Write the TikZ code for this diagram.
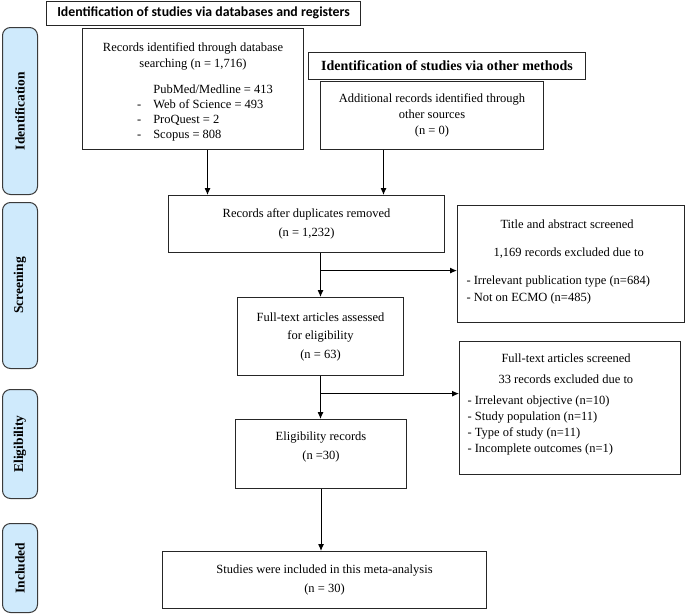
\documentclass[tikz,border=0pt]{standalone}
\usepackage{fontspec}
\setmainfont{Liberation Serif}
\newfontfamily\hdrfont{Carlito}
\usetikzlibrary{arrows.meta,calc}
\definecolor{tabfill}{HTML}{CFEAFC}
\definecolor{tabline}{HTML}{3A3A3A}
\tikzset{
  box/.style={draw=black!85, line width=1pt, anchor=north west, inner sep=0pt, font=\fontsize{12.5}{18.5}\selectfont},
  hdr/.style={draw=black!85, line width=1pt, anchor=north west, inner sep=0pt},
  txt/.style={font=\fontsize{12.5}{15.5}\selectfont},
  tab/.style={draw=tabline, fill=tabfill, line width=1pt, rounded corners=8pt, anchor=north west, inner sep=0pt},
  tablabel/.style={rotate=90, font=\fontsize{13.5}{16}\selectfont\bfseries},
  arr/.style={line width=1pt, -{Latex[length=7pt,width=6pt]}},
  ln/.style={line width=1pt}
}
\begin{document}
\begin{tikzpicture}[x=1pt,y=-1pt]
\useasboundingbox (0,0) rectangle (685,613);
% side tabs
\node[tab, minimum width=35, minimum height=167] (t1) at (2,27) {};
\node[tablabel] at (t1.center) {Identification};
\node[tab, minimum width=35, minimum height=166] (t2) at (2,202) {};
\node[tablabel] at (t2.center) {Screening};
\node[tab, minimum width=35, minimum height=109] (t3) at (2,389) {};
\node[tablabel] at (t3.center) {Eligibility};
\node[tab, minimum width=35, minimum height=89] (t4) at (2,523) {};
\node[tablabel] at (t4.center) {Included};
% headers
\node[hdr, minimum width=314, minimum height=24.5] (h1) at (46,0.5) {};
\node[font=\hdrfont\fontsize{13.8}{16}\selectfont\bfseries] at (h1.center) {Identification of studies via databases and registers};
\node[hdr, minimum width=277, minimum height=27] (h2) at (308,52) {};
\node[font=\fontsize{14}{16}\selectfont\bfseries] at (h2.center) {Identification of studies via other methods};
% boxes
\node[box, minimum width=221, minimum height=121] (b1) at (82,28) {};
\node[txt, align=center, anchor=north] at ($(b1.north)+(0,11)$) {Records identified through database\\[0.5pt] searching (n = 1,716)\\[12pt]
 \hspace*{24pt}\begin{tabular}{@{}l@{\hspace{12pt}}l@{}}
 & PubMed/Medline = 413\\[-0.5pt]
 - & Web of Science = 493\\[-0.5pt]
 - & ProQuest = 2\\[-0.5pt]
 - & Scopus = 808
 \end{tabular}};
\node[box, minimum width=223, minimum height=68, align=center, font=\fontsize{12.5}{16}\selectfont] (b2) at (320,81) {Additional records identified through\\ other sources\\ (n = 0)};
\node[box, minimum width=276, minimum height=57, align=center] (b3) at (168,195) {Records after duplicates removed\\ (n = 1,232)};
\node[box, minimum width=166, minimum height=78, align=center] (b4) at (237,297) {Full-text articles assessed\\ for eligibility\\ (n = 63)};
\node[box, minimum width=227, minimum height=117] (b5) at (457,205) {};
\node[txt, align=left, anchor=north west] at (463,216) {\hspace*{34pt}Title and abstract screened\\[12.5pt]
 \hspace*{27pt}1,169 records excluded due to\\[12.5pt]
 - Irrelevant publication type (n=684)\\[1.5pt]
 - Not on ECMO (n=485)};
\node[box, minimum width=221, minimum height=133] (b7) at (459,341) {};
\node[txt, align=left, anchor=north west] at (464,350.5) {\hspace*{34pt}Full-text articles screened\\[5.5pt]
 \hspace*{31pt}33 records excluded due to\\[5.5pt]
 - Irrelevant objective (n=10)\\[0.5pt]
 - Study population (n=11)\\[0.5pt]
 - Type of study (n=11)\\[0.5pt]
 - Incomplete outcomes (n=1)};
\node[box, minimum width=171, minimum height=69] (b6) at (235,419) {};
\node[font=\fontsize{12.5}{18.5}\selectfont, align=center] at ($(b6.center)+(0,-7)$) {Eligibility records\\ (n =30)};
\node[box, minimum width=324, minimum height=57, align=center] (b8) at (162,551) {Studies were included in this meta-analysis\\ (n = 30)};
% connectors
\draw[arr] ([xshift=14.5pt]b1.south) -- ([xshift=14.5pt]b1.south |- b3.north);
\draw[arr] ([xshift=-48.5pt]b2.south) -- ([xshift=-48.5pt]b2.south |- b3.north);
\draw[arr] (b4.north |- b3.south) -- (b4.north);
\coordinate (j1) at ($(b4.north |- b3.south)!0.4!(b4.north)$);
\draw[arr] (j1) -- (j1 -| b5.west);
\draw[arr] (b4.south) -- (b4.south |- b6.north);
\coordinate (j2) at ($(b4.south)!0.41!(b4.south |- b6.north)$);
\draw[arr] (j2) -- (j2 -| b7.west);
\draw[arr] (b6.south) -- (b6.south |- b8.north);
\end{tikzpicture}
\end{document}
